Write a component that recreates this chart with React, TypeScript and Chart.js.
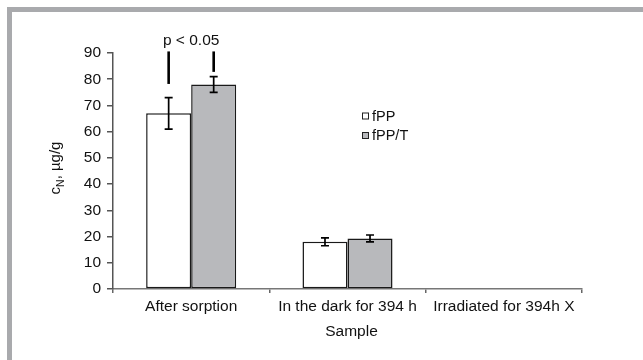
import React, { useEffect, useRef } from "react";
import { Chart, registerables } from "chart.js";

Chart.register(...registerables);

const categories = ["After sorption", "In the dark for 394 h", "Irradiated for 394h X"];
const seriesNames = ["fPP", "fPP/T"];
const fppValues: (number | null)[] = [67, 18, null];
const fppTValues: (number | null)[] = [78, 19.3, null];
const fppErrors: (number | null)[] = [6, 1.5, null];
const fppTErrors: (number | null)[] = [3, 1.3, null];
const seriesColors = ["#ffffff", "#b8b9bc"];
const yMin = 0;
const yMax = 90;
const yStep = 10;
const yTitleMain = "c";
const yTitleSub = "N";
const yTitleRest = ", µg/g";
const xTitle = "Sample";
const sigLabel = "p < 0.05";
const sigTopValue = 90.6;
const sigBottomValues = [78.2, 82.8];
const sigLabelValue = 94.6;

const FONT = "'Liberation Sans', Arial, sans-serif";
const TICK_SIZE = 15.5;

export default function App() {
  const ref = useRef<HTMLCanvasElement | null>(null);

  useEffect(() => {
    const canvas = ref.current;
    if (!canvas) return;

    const framePlugin = {
      id: "frame",
      beforeDraw(chart: any) {
        const ctx = chart.ctx;
        ctx.save();
        ctx.fillStyle = "#ffffff";
        ctx.fillRect(0, 0, chart.width, chart.height);
        ctx.fillStyle = "#a9aaad";
        ctx.fillRect(7, 7, chart.width - 7, 5);
        ctx.fillRect(7, 7, 5, chart.height - 7);
        ctx.restore();
      },
    };

    const errorPlugin = {
      id: "errors",
      afterDatasetsDraw(chart: any) {
        const ctx = chart.ctx;
        const yScale = chart.scales.y;
        const errs = [fppErrors, fppTErrors];
        const vals = [fppValues, fppTValues];
        ctx.save();
        ctx.strokeStyle = "#000";
        ctx.lineWidth = 1.7;
        for (let d = 0; d < 2; d++) {
          const meta = chart.getDatasetMeta(d);
          meta.data.forEach((bar: any, i: number) => {
            const v = vals[d][i];
            const e = errs[d][i];
            if (v == null || e == null) return;
            const x = bar.x;
            const yt = yScale.getPixelForValue(v + e);
            const yb = yScale.getPixelForValue(v - e);
            ctx.beginPath();
            ctx.moveTo(x, yt);
            ctx.lineTo(x, yb);
            ctx.moveTo(x - 4, yt);
            ctx.lineTo(x + 4, yt);
            ctx.moveTo(x - 4, yb);
            ctx.lineTo(x + 4, yb);
            ctx.stroke();
          });
        }
        // significance
        ctx.lineWidth = 2.6;
        const xs = [chart.getDatasetMeta(0).data[0].x, chart.getDatasetMeta(1).data[0].x];
        const yTop = yScale.getPixelForValue(sigTopValue);
        for (let k = 0; k < 2; k++) {
          ctx.beginPath();
          ctx.moveTo(xs[k], yTop);
          ctx.lineTo(xs[k], yScale.getPixelForValue(sigBottomValues[k]));
          ctx.stroke();
        }
        ctx.fillStyle = "#111";
        ctx.font = `${TICK_SIZE}px ${FONT}`;
        ctx.textAlign = "center";
        ctx.textBaseline = "middle";
        ctx.fillText(sigLabel, (xs[0] + xs[1]) / 2, yScale.getPixelForValue(sigLabelValue));
        ctx.restore();
      },
    };

    const textPlugin = {
      id: "texts",
      afterDraw(chart: any) {
        const ctx = chart.ctx;
        const area = chart.chartArea;
        ctx.save();
        ctx.fillStyle = "#111";
        // y title
        ctx.translate(55, 168);
        ctx.rotate(-Math.PI / 2);
        const mainFont = `15px ${FONT}`;
        const subFont = `10.5px ${FONT}`;
        ctx.font = mainFont;
        const w1 = ctx.measureText(yTitleMain).width;
        const w3 = ctx.measureText(yTitleRest).width;
        ctx.font = subFont;
        const w2 = ctx.measureText(yTitleSub).width;
        const total = w1 + w2 + w3;
        let x = -total / 2;
        ctx.textBaseline = "alphabetic";
        ctx.textAlign = "left";
        ctx.font = mainFont;
        ctx.fillText(yTitleMain, x, 5);
        x += w1;
        ctx.font = subFont;
        ctx.fillText(yTitleSub, x, 8.5);
        x += w2;
        ctx.font = mainFont;
        ctx.fillText(yTitleRest, x, 5);
        ctx.restore();

        ctx.save();
        ctx.fillStyle = "#111";
        ctx.font = `${TICK_SIZE}px ${FONT}`;
        ctx.textAlign = "center";
        ctx.textBaseline = "middle";
        ctx.fillText(xTitle, (area.left + area.right) / 2 + 4, 332);

        // legend
        ctx.font = `14.5px ${FONT}`;
        ctx.textAlign = "left";
        const ly = [116.5, 136];
        for (let i = 0; i < seriesNames.length; i++) {
          ctx.fillStyle = seriesColors[i];
          ctx.fillRect(362, ly[i] - 4, 7, 7);
          ctx.strokeStyle = "#222";
          ctx.lineWidth = 1;
          ctx.strokeRect(362.5, ly[i] - 3.5, 6, 6);
          ctx.fillStyle = "#111";
          ctx.fillText(seriesNames[i], 372, ly[i]);
        }
        ctx.restore();
      },
    };

    const chart = new Chart(canvas, {
      type: "bar",
      data: {
        labels: categories,
        datasets: [
          {
            label: seriesNames[0],
            data: fppValues,
            backgroundColor: seriesColors[0],
            borderColor: "#1a1a1a",
            borderWidth: 1.5,
            borderSkipped: false,
            barPercentage: 1,
            categoryPercentage: 0.576,
          },
          {
            label: seriesNames[1],
            data: fppTValues,
            backgroundColor: seriesColors[1],
            borderColor: "#1a1a1a",
            borderWidth: 1.5,
            borderSkipped: false,
            barPercentage: 1,
            categoryPercentage: 0.576,
          },
        ],
      },
      options: {
        responsive: false,
        animation: false,
        devicePixelRatio: 1,
        layout: { padding: { top: 53, right: 61, left: 0, bottom: 0 } },
        plugins: {
          legend: { display: false },
          tooltip: { enabled: false },
        },
        scales: {
          x: {
            type: "category",
            offset: true,
            grid: {
              display: true,
              offset: true,
              drawOnChartArea: false,
              tickLength: 4,
              color: "#666",
              lineWidth: 1.5,
            },
            border: { display: true, color: "#777", width: 1.5 },
            ticks: {
              font: { family: FONT, size: TICK_SIZE },
              color: "#111",
              padding: 4,
              maxRotation: 0,
              autoSkip: false,
            },
            afterFit(scale: any) {
              scale.height = 71;
            },
          },
          y: {
            min: yMin,
            max: yMax,
            grid: {
              display: true,
              drawOnChartArea: false,
              tickLength: 6,
              color: "#555",
              lineWidth: 1.5,
            },
            border: { display: true, color: "#555", width: 1.5 },
            ticks: {
              stepSize: yStep,
              font: { family: FONT, size: TICK_SIZE },
              color: "#111",
              padding: 6,
            },
            afterFit(scale: any) {
              scale.width = 113;
            },
          },
        },
      },
      plugins: [framePlugin, errorPlugin, textPlugin],
    } as any);

    return () => chart.destroy();
  }, []);

  return (
    <div style={{ position: "absolute", left: 0, top: 0, width: 643, height: 360 }}>
      <canvas ref={ref} width={643} height={360} style={{ display: "block" }} />
    </div>
  );
}
